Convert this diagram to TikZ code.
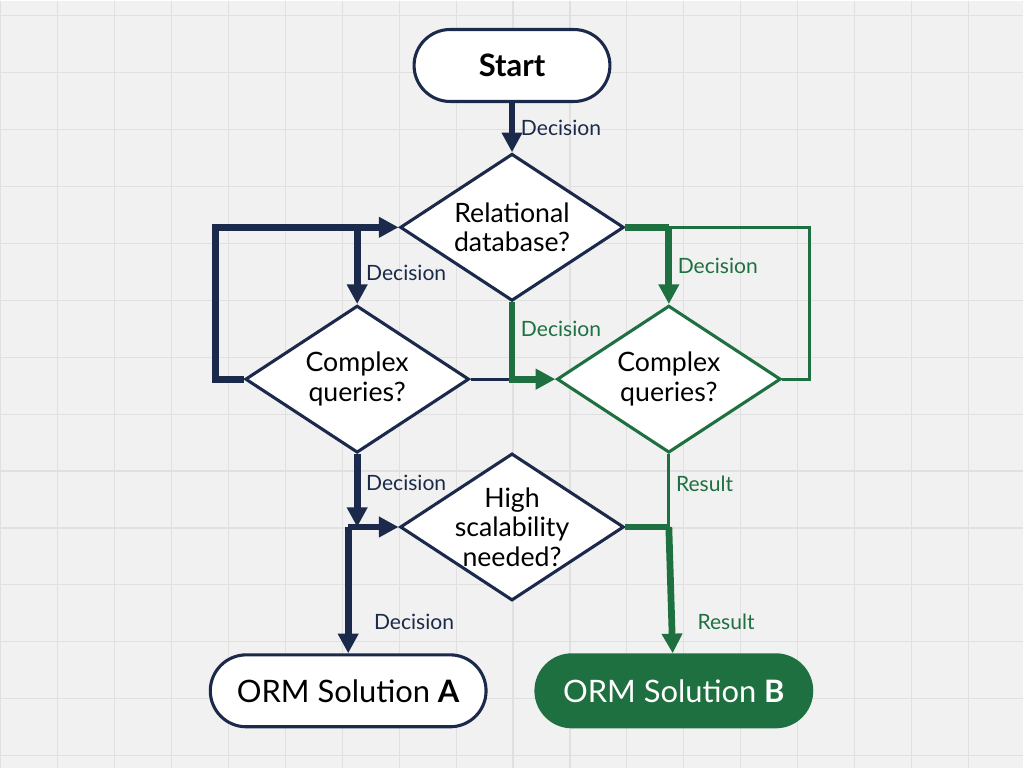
\documentclass[tikz,border=0pt]{standalone}
\usepackage{fontspec}
\setmainfont{Lato}
\usetikzlibrary{arrows.meta,positioning,shapes.geometric,calc}
\definecolor{navy}{HTML}{1B2A4A}
\definecolor{ormgreen}{HTML}{1E7040}
\definecolor{paper}{HTML}{F1F1F1}
\definecolor{gridc}{HTML}{E0E0E0}
\tikzset{
    question/.style={
        draw,
        diamond,
        fill=white,
        line width=1.1pt,
        inner sep=-6pt,
        minimum width=2.8cm*#1,
        minimum height=1.84cm*#1,
        align=center,
        font=\fontsize{9.5}{10.5}\selectfont
    },
}
\begin{document}
\begin{tikzpicture}[x=0.0125cm,y=-0.0125cm]
%% styles
\tikzstyle{terminal}=[rounded corners=0.45cm,draw=navy,line width=1.1pt,fill=white,minimum height=0.9cm,font=\fontsize{11}{13}\selectfont]
\tikzstyle{lbl}=[font=\fontsize{7.5}{9}\selectfont,inner sep=2pt]
\tikzstyle{heavy}=[line width=2.4pt,-{Triangle[length=7pt,width=7pt]}]
\tikzstyle{light}=[line width=1.1pt]

%% background
\fill[paper] (0,0) rectangle (1024,768);
\foreach \g in {0,57,...,1024}
\draw[gridc,line width=0.4pt] (\g,0) -- (\g,768);
\foreach \g in {15,72,...,768}
\draw[gridc,line width=0.4pt] (0,\g) -- (1024,\g);
\useasboundingbox (0,0) rectangle (1024,768);

%% nodes
\node[terminal,minimum width=2.45cm,font=\fontsize{11}{13}\selectfont\bfseries] (G-start) at (512,65) {Start};
\node[question=1,draw=navy] (G-rel) at (512,227) {Relational\\database?};
\node[question=1,draw=navy] (G-cqa) at (357,379) {Complex\\queries?};
\node[question=1,draw=ormgreen] (G-cqb) at (669,379) {Complex\\queries?};
\node[question=1,draw=navy] (G-high) at (512,527) {High\\scalability\\needed?};
\node[terminal,minimum width=3.45cm] (G-orma) at (348,691) {ORM Solution \textbf{A}};
\node[terminal,draw=ormgreen,fill=ormgreen,text=white,minimum width=3.45cm] (G-ormb) at (674,691) {ORM Solution \textbf{B}};

% junctions
\coordinate (J-a) at (357,227);
\coordinate (J-b) at (669,227);
\coordinate (J-c) at (512,379);
\coordinate (J-d) at (357,527);
\coordinate (J-e) at (348,527);
\coordinate (J-f) at (669,527);

%% arrows
% navy side
\draw[navy,heavy] (G-start) -- node[lbl,right,text=navy] {Decision} (G-rel);
\draw[navy,heavy] (G-cqa.west) -- (215,379) -- (215,227) -- (G-rel.west);
\draw[navy,heavy] (J-a) -- node[lbl,right,text=navy,pos=0.6] {Decision} (G-cqa.north);
\draw[navy,light] (G-cqa.east) -- (J-c);
\draw[navy,heavy] (G-cqa.south) -- node[lbl,right,text=navy,pos=0.4] {Decision} (J-d);
\draw[navy,heavy] (J-e) -- (G-high.west);
\draw[navy,heavy] (J-e) -- node[lbl,right,text=navy,pos=0.75,xshift=6pt] {Decision} (G-orma);
% green side
\draw[ormgreen,heavy] (G-rel.south) -- node[lbl,right,text=ormgreen,pos=0.35] {Decision} (J-c) -- (G-cqb.west);
\draw[ormgreen,light] (J-b) -- (810,227) -- (810,379) -- (G-cqb.east);
\draw[ormgreen,line width=2.4pt] (G-rel.east) -- (J-b);
\draw[ormgreen,heavy] (J-b) -- node[lbl,right,text=ormgreen,pos=0.5] {Decision} (G-cqb.north);
\draw[ormgreen,light] (G-cqb.south) -- node[lbl,right,text=ormgreen,pos=0.4] {Result} (J-f);
\draw[ormgreen,line width=2.4pt] (G-high.east) -- (J-f);
\draw[ormgreen,heavy] (J-f) -- node[lbl,right,text=ormgreen,pos=0.75,xshift=6pt] {Result} (G-ormb);
\end{tikzpicture}
\end{document}
